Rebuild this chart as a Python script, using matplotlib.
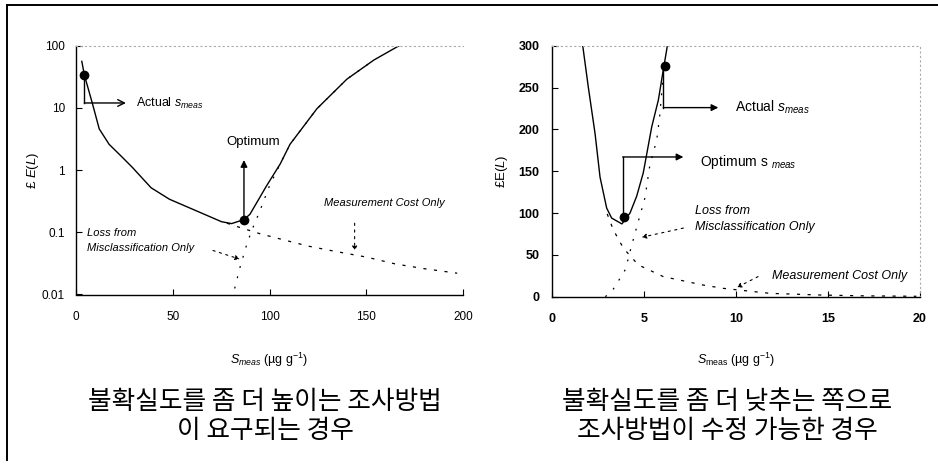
import matplotlib
matplotlib.use("Agg")
import matplotlib.pyplot as plt
from matplotlib.lines import Line2D

plt.rcParams['font.family'] = ['Liberation Sans', 'DejaVu Sans']
plt.rcParams['mathtext.fontset'] = 'custom'
plt.rcParams['mathtext.rm'] = 'Liberation Sans'
plt.rcParams['mathtext.it'] = 'Liberation Sans:italic'
plt.rcParams['mathtext.bf'] = 'Liberation Sans:bold'

# ---------------- data: left panel (log scale) ----------------
left_total_x = [3, 4.3, 8.5, 12, 17.1, 24, 29.2, 38.8, 48.3, 63.9, 75.2, 80.4, 86.8, 89.9, 98.5, 105.5, 110.6, 124.5, 140, 154, 167]
left_total_y = [56, 34, 11.7, 4.6, 2.6, 1.6, 1.1, 0.52, 0.34, 0.21, 0.148, 0.138, 0.16, 0.195, 0.56, 1.25, 2.6, 9.7, 29, 59, 100]
left_cost_x = [78, 81, 95, 107, 120, 133, 150, 165, 180, 197]
left_cost_y = [0.14, 0.13, 0.095, 0.076, 0.06, 0.05, 0.04, 0.031, 0.026, 0.022]
left_mis_x = [82, 84.7, 88, 90.7, 95, 100, 105.5, 110.6, 124.5, 140, 154]
left_mis_y = [0.0125, 0.027, 0.06, 0.105, 0.22, 0.56, 1.25, 2.6, 9.7, 29, 59]
left_actual = (4.3, 34)
left_optimum = (86.8, 0.16)
left_xticks = [0, 50, 100, 150, 200]
left_yticks = [0.01, 0.1, 1, 10, 100]
left_yticklabels = ['0.01', '0.1', '1', '10', '100']

# ---------------- data: right panel (linear scale) ----------------
right_total_x = [1.67, 1.97, 2.34, 2.61, 2.97, 3.24, 3.8, 4.24, 4.6, 4.96, 5.42, 5.78, 6.01, 6.27]
right_total_y = [300, 251, 195, 143, 106, 94, 87, 100, 120, 148, 203, 235, 266, 300]
right_cost_x = [3.0, 3.33, 3.88, 4.69, 6.05, 8.2, 9.3, 11.85, 14.6, 17, 19.8]
right_cost_y = [99, 80, 58, 38, 24, 14, 10, 4, 2, 1, 0.5]
right_mis_x = [2.9, 3.3, 3.7, 4.0, 4.24, 4.69, 5.05, 5.33, 5.69, 5.85, 6.05]
right_mis_y = [0, 8, 22, 33, 54, 90, 118, 159, 187, 215, 266]
right_actual = (6.14, 276)
right_optimum = (3.9, 95)
right_xticks = [0, 5, 10, 15, 20]
right_yticks = [0, 50, 100, 150, 200, 250, 300]

caption_left = ['불확실도를 좀 더 높이는 조사방법', '이 요구되는 경우']
caption_right = ['불확실도를 좀 더 낮추는 쪽으로', '조사방법이 수정 가능한 경우']

W, H = 938, 466
fig = plt.figure(figsize=(W / 100, H / 100), dpi=100)

def px_axes(x0, y0, x1, y1):
    return fig.add_axes([x0 / W, 1 - y1 / H, (x1 - x0) / W, (y1 - y0) / H])

axL = px_axes(76, 45.7, 463, 294.5)
axR = px_axes(552, 45.7, 920, 296.7)

# outer frame (top and left lines)
fig.add_artist(Line2D([7 / W, 7 / W], [1 - 5 / H, 1 - 460 / H], transform=fig.transFigure, color='k', lw=1.4))
fig.add_artist(Line2D([7 / W, 1.0], [1 - 5 / H, 1 - 5 / H], transform=fig.transFigure, color='k', lw=1.4))

dash_cost = (0, (2.5, 6))
dash_mis = (0, (1.5, 7))
faint = '#aaaaaa'

# ---------------- left panel ----------------
ax = axL
ax.set_yscale('log')
ax.set_xlim(0, 200)
ax.set_ylim(0.01, 100)
ax.plot(left_cost_x, left_cost_y, color='k', lw=0.9, ls=dash_cost)
ax.plot(left_mis_x, left_mis_y, color='k', lw=0.9, ls=dash_mis)
ax.plot(left_total_x, left_total_y, color='k', lw=1.0)
ax.plot(*left_actual, 'o', color='k', ms=6)
ax.plot(*left_optimum, 'o', color='k', ms=6)

ax.plot([left_actual[0], left_actual[0]], [left_actual[1], 12], color='k', lw=1)
ax.annotate('', xy=(25.8, 12), xytext=(left_actual[0], 12),
            arrowprops=dict(arrowstyle='->', color='k', lw=1, shrinkA=0, shrinkB=0, mutation_scale=12))
ax.text(31, 12, 'Actual $s_{meas}$', fontsize=9, ha='left', va='center')
ax.annotate('', xy=(left_optimum[0], 1.45), xytext=left_optimum,
            arrowprops=dict(arrowstyle='-|>', color='k', lw=1, shrinkA=0, shrinkB=0, mutation_scale=10))
ax.text(91.6, 2.8, 'Optimum', fontsize=9.5, ha='center', va='center')
ax.text(5.9, 0.098, 'Loss from', fontsize=8, style='italic', ha='left', va='center')
ax.text(5.9, 0.056, 'Misclassification Only', fontsize=8, style='italic', ha='left', va='center')
ax.annotate('', xy=(84.7, 0.037), xytext=(70.8, 0.051),
            arrowprops=dict(arrowstyle='-|>', color='k', lw=0.8, ls=(0, (2, 4)), shrinkA=0, shrinkB=0, mutation_scale=7))
ax.text(128, 0.3, 'Measurement Cost Only', fontsize=8, style='italic', ha='left', va='center')
ax.annotate('', xy=(144, 0.05), xytext=(144, 0.14),
            arrowprops=dict(arrowstyle='-|>', color='k', lw=0.8, ls=(0, (2, 4)), shrinkA=0, shrinkB=0, mutation_scale=7))

ax.set_xticks(left_xticks)
ax.set_xticklabels([str(v) for v in left_xticks])
ax.set_yticks(left_yticks)
ax.set_yticklabels(left_yticklabels)
ax.minorticks_off()
ax.tick_params(axis='x', direction='in', length=4, pad=12, labelsize=8.5)
ax.tick_params(axis='y', direction='in', length=4, pad=8, labelsize=8.5)
ax.spines['right'].set_visible(False)
ax.spines['top'].set_linestyle((0, (1, 3)))
ax.spines['top'].set_color(faint)
ax.spines['top'].set_linewidth(0.8)
for s in ('left', 'bottom'):
    ax.spines[s].set_linewidth(1.0)
ax.set_ylabel('£ $E$($L$)', fontsize=9.5)
ax.set_xlabel('$S_{meas}$ (µg g$^{-1}$)', fontsize=9)
ax.xaxis.set_label_coords(0.5, (294.5 - 360) / 248.8)
ax.xaxis.label.set_va('center')
ax.yaxis.set_label_coords((33 - 76) / 387, 0.5)
ax.yaxis.label.set_va('center')

# ---------------- right panel ----------------
ax = axR
ax.set_xlim(0, 20)
ax.set_ylim(0, 300)
ax.plot(right_cost_x, right_cost_y, color='k', lw=0.9, ls=dash_cost)
ax.plot(right_mis_x, right_mis_y, color='k', lw=0.9, ls=dash_mis)
ax.plot(right_total_x, right_total_y, color='k', lw=1.0)
ax.plot(*right_actual, 'o', color='k', ms=6)
ax.plot(*right_optimum, 'o', color='k', ms=6)

ax.plot([6.05, 6.05], [right_actual[1], 226], color='k', lw=1)
ax.annotate('', xy=(9.04, 226), xytext=(6.05, 226),
            arrowprops=dict(arrowstyle='-|>', color='k', lw=1, shrinkA=0, shrinkB=0, mutation_scale=10))
ax.text(9.95, 226, 'Actual $s_{meas}$', fontsize=10, ha='left', va='center')
ax.plot([3.84, 3.84], [right_optimum[1], 167], color='k', lw=1)
ax.annotate('', xy=(7.14, 167), xytext=(3.84, 167),
            arrowprops=dict(arrowstyle='-|>', color='k', lw=1, shrinkA=0, shrinkB=0, mutation_scale=10))
ax.text(8.04, 161, 'Optimum s $_{meas}$', fontsize=10, ha='left', va='center')
ax.text(7.77, 103, 'Loss from', fontsize=9, style='italic', ha='left', va='center')
ax.text(7.77, 83, 'Misclassification Only', fontsize=9, style='italic', ha='left', va='center')
ax.annotate('', xy=(4.87, 71), xytext=(7.14, 82),
            arrowprops=dict(arrowstyle='-|>', color='k', lw=0.8, ls=(0, (2, 4)), shrinkA=0, shrinkB=0, mutation_scale=7))
ax.text(11.94, 24.7, 'Measurement Cost Only', fontsize=9, style='italic', ha='left', va='center')
ax.annotate('', xy=(10.04, 11), xytext=(11.2, 24),
            arrowprops=dict(arrowstyle='-|>', color='k', lw=0.8, ls=(0, (2, 4)), shrinkA=0, shrinkB=0, mutation_scale=7))

ax.set_xticks(right_xticks)
ax.set_yticks(right_yticks)
ax.tick_params(axis='x', direction='in', length=4, pad=12, labelsize=9)
ax.tick_params(axis='y', direction='in', length=4, pad=9, labelsize=9)
for lab in ax.get_xticklabels() + ax.get_yticklabels():
    lab.set_fontweight('bold')
for s in ('top', 'right'):
    ax.spines[s].set_linestyle((0, (1, 3)))
    ax.spines[s].set_color(faint)
    ax.spines[s].set_linewidth(0.8)
for s in ('left', 'bottom'):
    ax.spines[s].set_linewidth(1.0)
ax.set_ylabel('£E($L$)', fontsize=9.5)
ax.set_xlabel('$S_{\\mathrm{meas}}$ (µg g$^{-1}$)', fontsize=9)
ax.xaxis.set_label_coords(0.5, (296.7 - 360) / 251)
ax.xaxis.label.set_va('center')
ax.yaxis.set_label_coords((502 - 552) / 368, 0.5)
ax.yaxis.label.set_va('center')

# ---------------- Korean captions ----------------
kfont = ['Noto Sans CJK KR', 'DejaVu Sans']
for i, line in enumerate(caption_left):
    fig.text(265 / W, 1 - (402 + 29 * i) / H, line, family=kfont, fontsize=18.5,
             weight='light', ha='center', va='center')
for i, line in enumerate(caption_right):
    fig.text(727 / W, 1 - (402 + 29 * i) / H, line, family=kfont, fontsize=18.5,
             weight='light', ha='center', va='center')

fig.savefig('out.png', dpi=100)
